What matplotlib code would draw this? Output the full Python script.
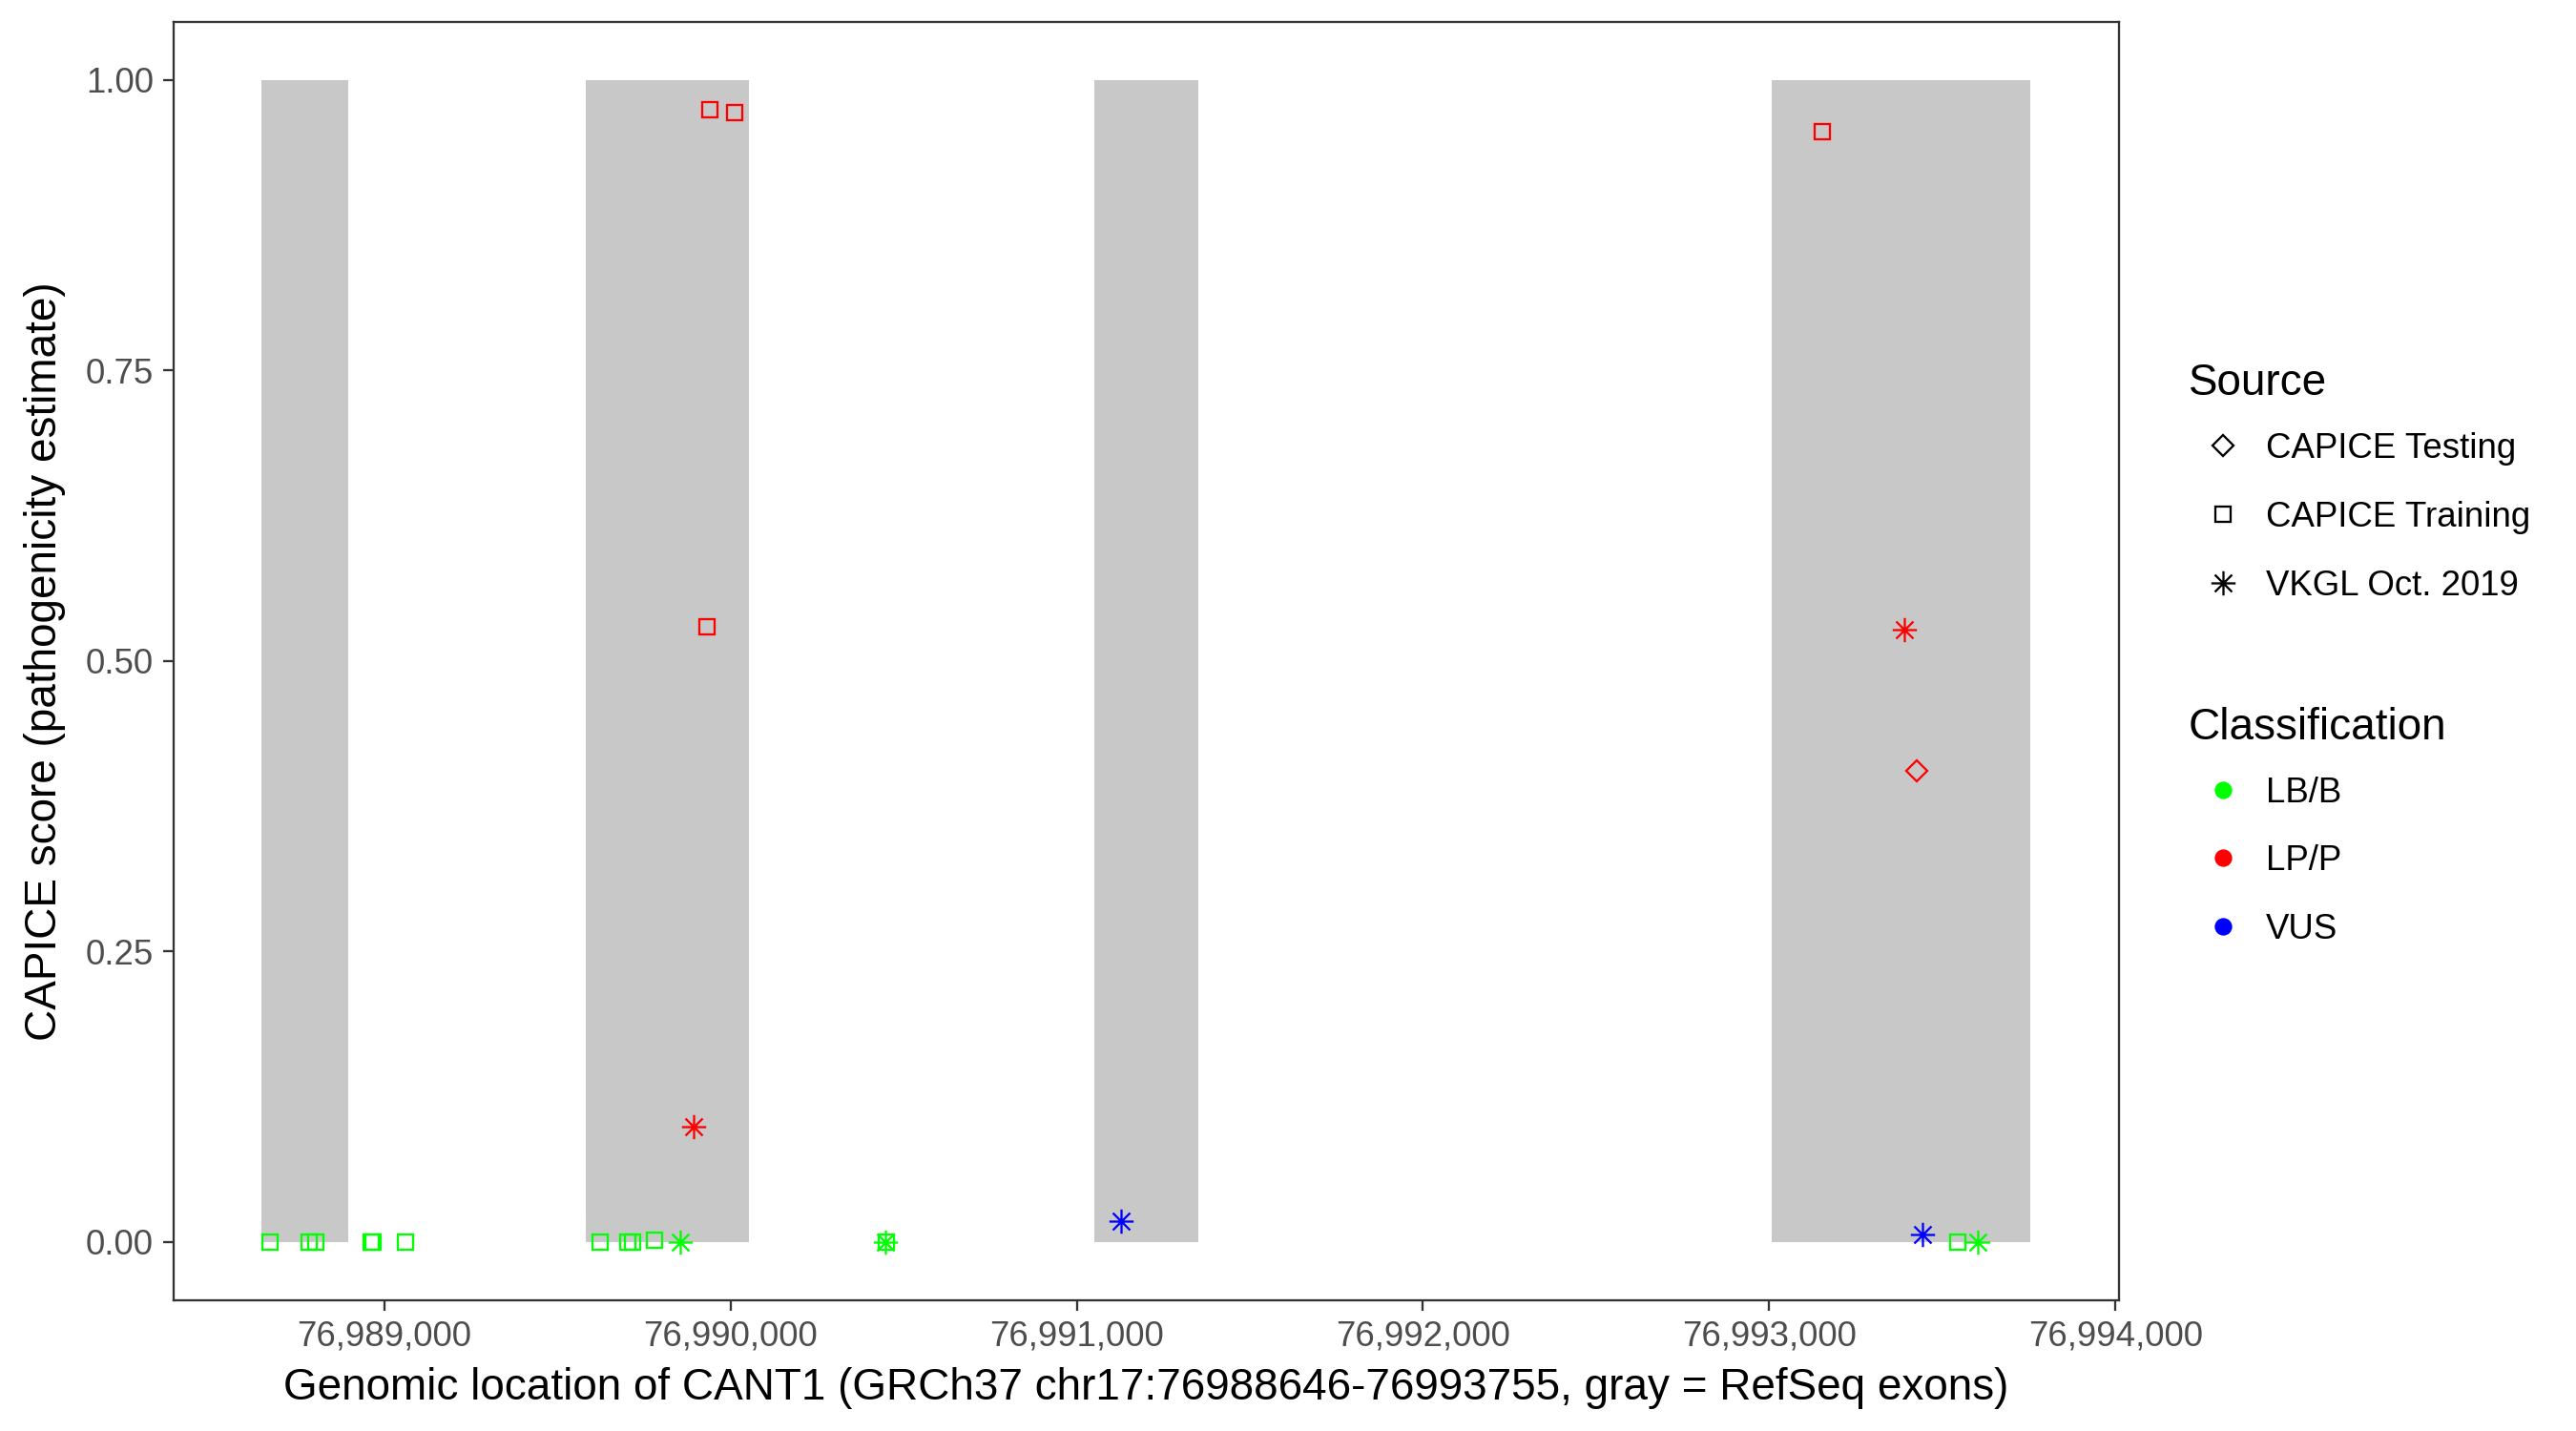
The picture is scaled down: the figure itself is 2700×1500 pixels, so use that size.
import numpy as np
import matplotlib
matplotlib.use("Agg")
import matplotlib.pyplot as plt
import matplotlib.ticker as mticker
from matplotlib.path import Path
from matplotlib.lines import Line2D

plt.rcParams['font.family'] = ['Liberation Sans', 'DejaVu Sans']

# exons (RefSeq) of CANT1, GRCh37 chr17
EXON_START = [76988646, 76989583, 76991051, 76993007]
EXON_END = [76988896, 76990054, 76991352, 76993755]

# variants
POSITION = [76988669, 76988784, 76988803, 76988962, 76988968, 76989062,
            76989624, 76989703, 76989716, 76989781, 76990451, 76989931,
            76989940, 76990011, 76993153, 76993546,
            76993426,
            76989855, 76989894, 76990446, 76991127, 76993389, 76993443, 76993603]
SCORE = [0.0, 0.0, 0.0, 0.0, 0.0, 0.0,
         0.0, 0.0, 0.0, 0.0014, 0.0, 0.5296,
         0.9744, 0.9722, 0.9553, 0.0,
         0.4051,
         0.0, 0.099, 0.0, 0.0179, 0.5266, 0.0067, 0.0]
SOURCE = ["CAPICE Training"] * 16 + ["CAPICE Testing"] + ["VKGL Oct. 2019"] * 7
CLASSIFICATION = ["LB/B"] * 11 + ["LP/P"] * 4 + ["LB/B"] + ["LP/P"] + \
                 ["LB/B", "LP/P", "LB/B", "VUS", "LP/P", "VUS", "LB/B"]

SOURCE_LEVELS = ["CAPICE Testing", "CAPICE Training", "VKGL Oct. 2019"]
CLASS_LEVELS = ["LB/B", "LP/P", "VUS"]
CLASS_COLORS = {"LB/B": "#00FF00", "LP/P": "#FF0000", "VUS": "#0000FF"}

# asterisk like R's pch 8
d = np.sqrt(0.5)
ASTERISK = Path([(0, -1), (0, 1), (-1, 0), (1, 0), (-d, -d), (d, d), (-d, d), (d, -d)],
                [Path.MOVETO, Path.LINETO] * 4)
SOURCE_MARKERS = {"CAPICE Testing": ("D", 3.9), "CAPICE Training": ("s", 3.9),
                  "VKGL Oct. 2019": (ASTERISK, 6.1)}
MEW = 0.55
DARK = "#333333"

pos = np.array(POSITION)
score = np.array(SCORE)
src = np.array(SOURCE)
cls = np.array(CLASSIFICATION)

fig = plt.figure(figsize=(9, 5), dpi=300)
ax = fig.add_axes([0.0673, 0.0915, 0.8226 - 0.0673, 0.9847 - 0.0915])

for s, e in zip(EXON_START, EXON_END):
    ax.fill_between([s, e], 0, 1, color="#C8C8C8", linewidth=0, zorder=1)

for so in SOURCE_LEVELS:
    for c in CLASS_LEVELS:
        m = (src == so) & (cls == c)
        if not m.any():
            continue
        mk, ms = SOURCE_MARKERS[so]
        ax.plot(pos[m], score[m], linestyle="none", marker=mk, markersize=ms,
                markerfacecolor="none", markeredgecolor=CLASS_COLORS[c],
                markeredgewidth=MEW, zorder=3)

span = max(EXON_END) - min(EXON_START)
ax.set_xlim(min(EXON_START) - 0.05 * span, max(EXON_END) + 0.05 * span)
ax.set_ylim(-0.05, 1.05)
ax.set_xticks(np.arange(76989000, 76994001, 1000))
ax.set_yticks([0, 0.25, 0.5, 0.75, 1.0])
ax.xaxis.set_major_formatter(mticker.FuncFormatter(lambda v, p: f"{v:,.0f}"))
ax.yaxis.set_major_formatter(mticker.FormatStrFormatter("%.2f"))

for sp in ax.spines.values():
    sp.set_linewidth(0.55)
    sp.set_color(DARK)
ax.tick_params(direction="out", length=2.75, width=0.55, color=DARK,
               labelcolor="#4D4D4D", labelsize=8.8, pad=2.2)

ax.set_xlabel("Genomic location of CANT1 (GRCh37 chr17:76988646-76993755, gray = RefSeq exons)",
              fontsize=11, labelpad=3.5)
ax.set_ylabel("CAPICE score (pathogenicity estimate)", fontsize=11, labelpad=5.0)

# legends, drawn like ggplot guides
W, H = 2700.0, 1500.0
title_x = 2294 / W
key_x = 2330 / W
label_x = 2375 / W


def legend_block(title, title_y, labels, ys, key_fn):
    fig.text(title_x, 1 - (title_y + 16) / H, title, fontsize=11, va="baseline", ha="left")
    for lab, y in zip(labels, ys):
        fig.add_artist(Line2D([key_x], [1 - y / H], transform=fig.transFigure, **key_fn(lab)))
        fig.text(label_x, 1 - (y + 13) / H, lab, fontsize=8.8, va="baseline", ha="left")


def source_key(lab):
    mk, ms = SOURCE_MARKERS[lab]
    return dict(linestyle="none", marker=mk, markersize=ms, markerfacecolor="none",
                markeredgecolor="black", markeredgewidth=MEW)


def class_key(lab):
    return dict(linestyle="none", marker="o", markersize=4.4,
                markerfacecolor=CLASS_COLORS[lab], markeredgecolor=CLASS_COLORS[lab],
                markeredgewidth=0)


legend_block("Source", 398, SOURCE_LEVELS, [467, 539, 611], source_key)
legend_block("Classification", 759, CLASS_LEVELS, [828, 899, 971], class_key)

fig.savefig("out.png", dpi=300)
